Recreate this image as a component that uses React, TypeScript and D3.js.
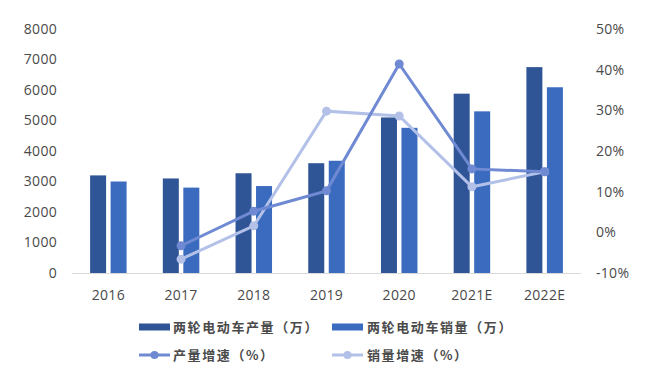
import React from "react";
import * as d3 from "d3";

const categories = ["2016", "2017", "2018", "2019", "2020", "2021E", "2022E"];
const production = [3200, 3100, 3270, 3600, 5100, 5880, 6750];
const sales = [3000, 2800, 2850, 3680, 4760, 5300, 6090];
const prodGrowth: (number | null)[] = [null, -3.3, 5.2, 10.2, 41.4, 15.6, 14.9];
const salesGrowth: (number | null)[] = [null, -6.6, 1.6, 29.8, 28.6, 11.2, 14.9];
const leftTicks = [0, 1000, 2000, 3000, 4000, 5000, 6000, 7000, 8000];
const rightTicks = [-10, 0, 10, 20, 30, 40, 50];
const legendLabels = ["两轮电动车产量（万）", "两轮电动车销量（万）", "产量增速（%）", "销量增速（%）"];

const W = 657, H = 376;
const left = 72, right = 581, top = 29, bottom = 273;
const C_PROD = "#2f5597";
const C_SALES = "#3a6bbf";
const C_PG = "#6f8ad3";
const C_SG = "#b3c1e8";
const TXT = "#4a4a4a";
const FONT = "'Open Sans', 'Noto Sans', sans-serif";
const CJK = "'Noto Sans CJK SC', sans-serif";

export default function App() {
  const x = d3.scaleBand<string>().domain(categories).range([left, right]).paddingInner(0).paddingOuter(0);
  const yL = d3.scaleLinear().domain([0, 8000]).range([bottom, top]);
  const yR = d3.scaleLinear().domain([-10, 50]).range([bottom, top]);
  const bw = 16, gap = 4.5;
  const cx = (c: string) => (x(c) as number) + x.bandwidth() / 2;

  const lineGen = d3
    .line<{ c: string; v: number | null }>()
    .defined((d) => d.v !== null)
    .x((d) => cx(d.c))
    .y((d) => yR(d.v as number));

  const pg = categories.map((c, i) => ({ c, v: prodGrowth[i] }));
  const sg = categories.map((c, i) => ({ c, v: salesGrowth[i] }));

  return (
    <svg width={W} height={H} style={{ position: "absolute", left: 0, top: 0, background: "#fff" }}>
      {leftTicks.map((t) => (
        <text key={"l" + t} x={57} y={yL(t)} dy="0.35em" textAnchor="end" fontSize={14} letterSpacing={0.3} fill={TXT} fontFamily={FONT}>
          {t}
        </text>
      ))}
      {rightTicks.map((t) => (
        <text key={"r" + t} x={596} y={yR(t)} dy="0.35em" textAnchor="start" fontSize={14} letterSpacing={0.3} fill={TXT} fontFamily={FONT}>
          {t + "%"}
        </text>
      ))}
      {categories.map((c, i) => (
        <g key={c}>
          <rect x={cx(c) - gap / 2 - bw} y={yL(production[i])} width={bw} height={bottom - yL(production[i])} fill={C_PROD} />
          <rect x={cx(c) + gap / 2} y={yL(sales[i])} width={bw} height={bottom - yL(sales[i])} fill={C_SALES} />
          <text x={cx(c)} y={295} dy="0.35em" textAnchor="middle" fontSize={14} letterSpacing={0.3} fill={TXT} fontFamily={FONT}>
            {c}
          </text>
        </g>
      ))}
      <line x1={left} x2={right} y1={bottom + 0.5} y2={bottom + 0.5} stroke="#d9d9d9" strokeWidth={1} />
      <path d={lineGen(sg) || ""} fill="none" stroke={C_SG} strokeWidth={3} />
      <path d={lineGen(pg) || ""} fill="none" stroke={C_PG} strokeWidth={3} />
      {sg.filter((d) => d.v !== null).map((d) => (
        <circle key={"sg" + d.c} cx={cx(d.c)} cy={yR(d.v as number)} r={4.5} fill={C_SG} />
      ))}
      {pg.filter((d) => d.v !== null).map((d) => (
        <circle key={"pg" + d.c} cx={cx(d.c)} cy={yR(d.v as number)} r={4.5} fill={C_PG} />
      ))}
      {/* legend */}
      <rect x={139} y={323.5} width={31} height={7} fill={C_PROD} />
      <text x={173} y={327} dy="0.35em" fontSize={13} letterSpacing={1.6} fill={TXT} fontFamily={CJK} fontWeight={700}>
        {legendLabels[0]}
      </text>
      <rect x={332} y={323.5} width={31} height={7} fill={C_SALES} />
      <text x={367} y={327} dy="0.35em" fontSize={13} letterSpacing={1.6} fill={TXT} fontFamily={CJK} fontWeight={700}>
        {legendLabels[1]}
      </text>
      <line x1={139} x2={170} y1={355} y2={355} stroke={C_PG} strokeWidth={3} />
      <circle cx={154.5} cy={355} r={4} fill={C_PG} />
      <text x={173} y={355} dy="0.35em" fontSize={13} letterSpacing={1.6} fill={TXT} fontFamily={CJK} fontWeight={700}>
        {legendLabels[2]}
      </text>
      <line x1={332} x2={363} y1={355} y2={355} stroke={C_SG} strokeWidth={3} />
      <circle cx={347.5} cy={355} r={4} fill={C_SG} />
      <text x={367} y={355} dy="0.35em" fontSize={13} letterSpacing={1.6} fill={TXT} fontFamily={CJK} fontWeight={700}>
        {legendLabels[3]}
      </text>
    </svg>
  );
}
